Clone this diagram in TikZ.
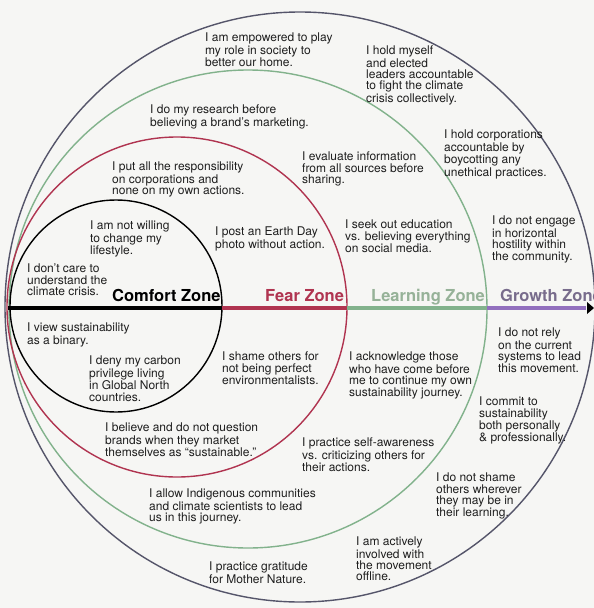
\documentclass[tikz,border=0pt]{standalone}
\usepackage{fontspec}
\setmainfont{TeX Gyre Heros}
\usetikzlibrary{arrows.meta}
\definecolor{bgc}{RGB}{246,246,244}
\definecolor{txt}{RGB}{30,30,30}
\definecolor{fearc}{RGB}{176,52,80}
\definecolor{learnc}{RGB}{130,178,140}
\definecolor{learntxt}{RGB}{150,178,152}
\definecolor{growc}{RGB}{146,112,190}
\definecolor{growtxt}{RGB}{120,108,140}
\definecolor{outerc}{RGB}{85,85,106}
\tikzset{
  stmt/.style={anchor=north west, inner sep=0pt, align=left, text=txt,
    font=\fontsize{12}{11.2}\selectfont},
  zonelabel/.style={anchor=base west, inner sep=0pt,
    font=\fontsize{16.5}{18}\selectfont\bfseries},
  ring/.style={line width=1.4pt},
  axisseg/.style={line width=3.5pt}
}
\begin{document}
\begin{tikzpicture}[x=1pt,y=-1pt]
\fill[bgc] (0,0) rectangle (594,608);
\useasboundingbox (0,0) rectangle (594,608);
% rings
\draw[ring,outerc] (300,307) circle[radius=295];
\draw[ring,learnc] (248,309) circle[radius=239];
\draw[ring,fearc] (177,307) circle[radius=170];
\draw[ring,black] (116,306) circle[radius=106];
% axis
\coordinate (a0) at (8,308);
\coordinate (a1) at (222,308);
\coordinate (a2) at (347,308);
\coordinate (a3) at (487,308);
\coordinate (a4) at (586,308);
\draw[axisseg,black] (a0) -- (a1);
\draw[axisseg,fearc] (a1) -- (a2);
\draw[axisseg,learnc] (a2) -- (a3);
\draw[axisseg,growc] (a3) -- (a4);
\fill[black] (587,302) -- (594,308) -- (587,314) -- cycle;
% zone labels
\node[zonelabel,black] (zc) at (112,301) {Comfort Zone};
\node[zonelabel,fearc] (zf) at (265,301) {Fear Zone};
\node[zonelabel,learntxt] (zl) at (371,301) {Learning Zone};
\node[zonelabel,growtxt] (zg) at (500,301) {Growth Zone};
% statements
\node[stmt] (t1) at (205,33) {I am empowered to play\\my role in society to\\better our home.};
\node[stmt] (t2) at (366,46) {I hold myself\\and elected\\leaders accountable\\to fight the climate\\crisis collectively.};
\node[stmt] (t3) at (150,105) {I do my research before\\believing a brand's marketing.};
\node[stmt] (t4) at (444,130) {I hold corporations\\accountable by\\boycotting any\\unethical practices.};
\node[stmt] (t5) at (302,152) {I evaluate information\\from all sources before\\sharing.};
\node[stmt] (t6) at (112,162) {I put all the responsibility\\on corporations and\\none on my own actions.};
\node[stmt] (t7) at (90,221) {I am not willing\\to change my\\lifestyle.};
\node[stmt] (t8) at (215,227) {I post an Earth Day\\photo without action.};
\node[stmt] (t9) at (345,220) {I seek out education\\vs. believing everything\\on social media.};
\node[stmt] (t10) at (492,216) {I do not engage\\in horizontal\\hostility within\\the community.};
\node[stmt] (t11) at (27,264) {I don't care to\\understand the\\climate crisis.};
\node[stmt] (t13) at (27,323) {I view sustainability\\as a binary.};
\node[stmt] (t14) at (89,356) {I deny my carbon\\privilege living\\in Global North\\countries.};
\node[stmt] (t15) at (222,352) {I shame others for\\not being perfect\\environmentalists.};
\node[stmt] (t16) at (349,352) {I acknowledge those\\who have come before\\me to continue my own\\sustainability journey.};
\node[stmt] (t17) at (498,328) {I do not rely\\on the current\\systems to lead\\this movement.};
\node[stmt] (t18) at (479,397) {I commit to\\sustainability\\both personally\\\& professionally.};
\node[stmt] (t19) at (105,423) {I believe and do not question\\brands when they market\\themselves as ``sustainable.''};
\node[stmt] (t20) at (302,438) {I practice self-awareness\\vs. criticizing others for\\their actions.};
\node[stmt] (t21) at (149,489) {I allow Indigenous communities\\and climate scientists to lead\\us in this journey.};
\node[stmt] (t22) at (436,473) {I do not shame\\others wherever\\they may be in\\their learning.};
\node[stmt] (t23) at (356,537) {I am actively\\involved with\\the movement\\offline.};
\node[stmt] (t24) at (209,562) {I practice gratitude\\for Mother Nature.};
\end{tikzpicture}
\end{document}
